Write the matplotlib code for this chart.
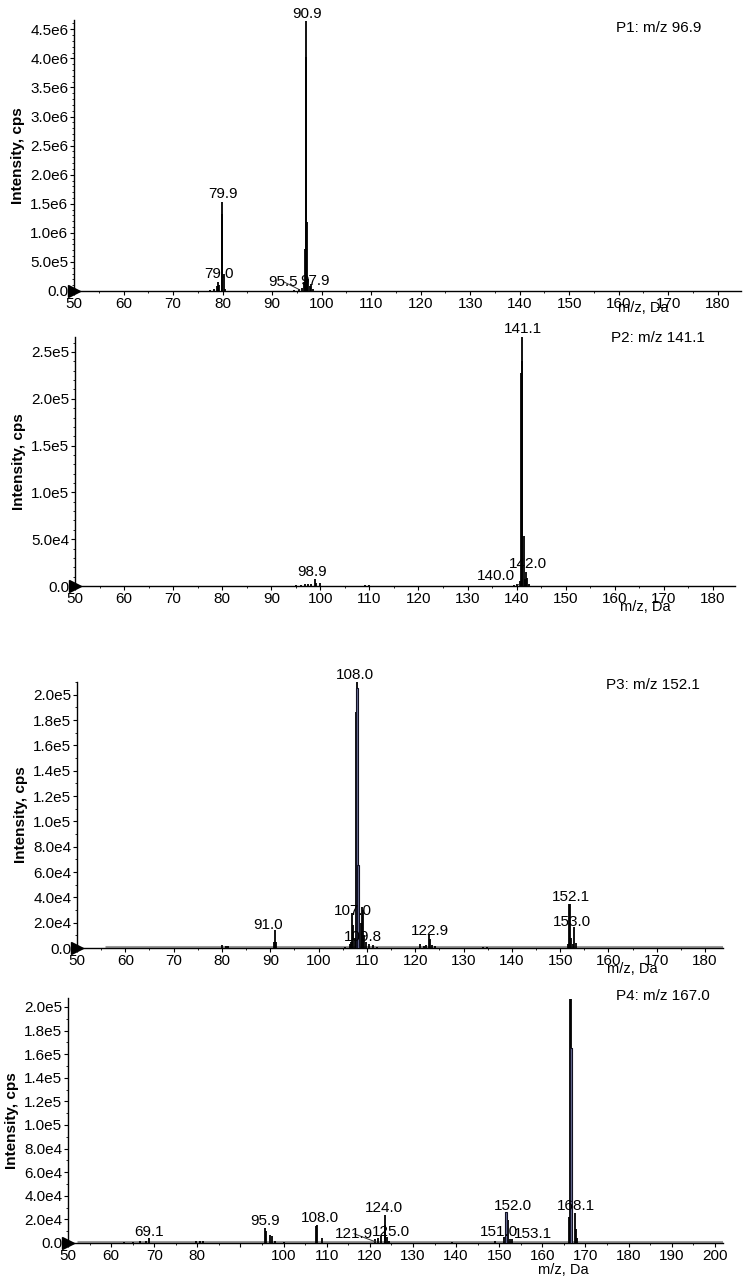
import numpy as np
import matplotlib
matplotlib.use("Agg")
import matplotlib.pyplot as plt
from matplotlib.ticker import MultipleLocator, FuncFormatter

plt.rcParams['font.family'] = ['Liberation Sans', 'DejaVu Sans']

# ---- P1: m/z 96.9 ----
mz1 = [77.5, 78.2, 78.8, 79.0, 79.3, 79.8, 79.9, 80.2, 80.5, 94.5, 95.5, 96.0, 96.4,
       96.6, 96.8, 96.9, 97.1, 97.3, 97.6, 97.9, 98.3]
int1 = [1.0e4, 3.0e4, 9.0e4, 1.55e5, 1.0e5, 1.33e6, 1.53e6, 3.0e5, 3.0e4, 1.0e4, 3.0e4,
        5.0e4, 1.5e5, 7.3e5, 4.02e6, 4.65e6, 1.18e6, 2.0e5, 9.0e4, 1.2e5, 3.0e4]
lab1_text = ["90.9", "79.9", "79.0", "95.5", "97.9"]
lab1_x = [97.0, 80.1, 79.3, 92.3, 98.6]
lab1_y = [4.65e6, 1.55e6, 1.7e5, 4.0e4, 6.0e4]

# ---- P2: m/z 141.1 ----
mz2 = [95.0, 96.0, 96.8, 97.5, 98.0, 98.9, 99.2, 100.0, 109.0, 110.0, 139.5, 140.0, 140.6,
       140.9, 141.0, 141.1, 141.4, 141.7, 142.0, 142.2, 142.6]
int2 = [1.5e3, 1.5e3, 2.0e3, 2.5e3, 2.0e3, 7.5e3, 3.0e3, 3.0e3, 1.0e3, 1.0e3, 1.0e3, 2.5e3,
        5.0e3, 2.28e5, 2.4e5, 2.66e5, 5.3e4, 8.0e3, 1.5e4, 9.0e3, 2.0e3]
lab2_text = ["141.1", "142.0", "140.0", "98.9"]
lab2_x = [141.3, 142.3, 135.8, 98.3]
lab2_y = [2.67e5, 1.6e4, 3.0e3, 8.0e3]

# ---- P3: m/z 152.1 ----
mz3 = [80.0, 80.8, 81.3, 90.8, 91.0, 91.2, 105.5, 106.4, 106.8, 107.0, 107.2, 107.5, 107.8,
       108.0, 108.2, 108.4, 108.7, 108.9, 109.1, 109.3, 109.8, 110.5, 111.2, 112.0, 121.0,
       121.8, 122.3, 122.9, 123.1, 123.5, 124.0, 134.0, 134.8, 151.6, 151.9, 152.1, 152.3,
       152.7, 152.9, 153.2]
int3 = [2.5e3, 1.5e3, 1.5e3, 5.0e3, 1.45e4, 5.0e3, 1.0e3, 3.0e3, 5.0e3, 2.77e4, 1.8e4, 8.0e3,
        1.866e5, 2.1e5, 6.56e4, 1.2e4, 2.0e4, 3.24e4, 3.0e4, 1.0e4, 5.0e3, 3.0e3, 2.5e3,
        1.0e3, 3.0e3, 1.5e3, 2.0e3, 1.03e4, 7.0e3, 2.0e3, 1.5e3, 1.0e3, 1.0e3, 3.0e3, 3.48e4,
        3.48e4, 8.0e3, 3.0e3, 1.66e4, 4.0e3]
fill3_mz = [108.0, 108.2]
fill3_int = [2.05e5, 6.56e4]
lab3_text = ["108.0", "107.0", "109.8", "91.0", "122.9", "152.1", "153.0"]
lab3_x = [107.5, 107.1, 109.2, 89.5, 123.0, 152.2, 152.4]
lab3_y = [2.1e5, 2.4e4, 3.0e3, 1.3e4, 8.0e3, 3.5e4, 1.5e4]

# ---- P4: m/z 167.0 ----
mz4 = [63.0, 65.0, 66.8, 68.2, 68.7, 79.8, 80.5, 81.2, 95.8, 96.0, 96.8, 97.2, 97.9, 100.0,
       107.6, 107.8, 108.8, 121.3, 122.0, 122.7, 123.4, 123.6, 124.0, 124.5, 139.0, 149.0,
       151.0, 151.6, 152.0, 152.4, 153.0, 166.2, 166.5, 166.7, 166.9, 167.6, 167.8, 168.1]
int4 = [1.0e3, 1.0e3, 1.5e3, 1.5e3, 4.0e3, 1.5e3, 2.0e3, 1.5e3, 1.27e4, 1.0e4, 7.0e3, 6.0e3,
        2.0e3, 1.0e3, 1.44e4, 1.5e4, 4.0e3, 3.0e3, 4.0e3, 6.0e3, 2.37e4, 1.5e4, 5.0e3,
        2.0e3, 1.0e3, 2.0e3, 5.0e3, 2.6e4, 1.95e4, 3.0e3, 3.0e3, 2.2e4, 2.07e5, 2.07e5,
        1.65e5, 2.5e4, 1.2e4, 4.0e3]
fill4_mz = [151.6, 166.7]
fill4_int = [2.6e4, 1.65e5]
lab4_text = ["69.1", "95.9", "108.0", "121.9", "124.0", "125.0", "152.0", "151.0", "153.1", "168.1"]
lab4_x = [68.7, 95.8, 108.4, 116.3, 123.2, 124.8, 153.2, 150.0, 157.9, 167.9]
lab4_y = [3.0e3, 1.25e4, 1.55e4, 2.0e3, 2.4e4, 3.5e3, 2.5e4, 3.0e3, 1.5e3, 2.5e4]

# (label index, peak m/z, peak intensity) for labels with a leader line
ptr1 = [(3, 95.6, 2.0e4)]
ptr2 = [(2, 140.6, 1.0e3)]
ptr4 = [(3, 121.3, 1.0e3)]

titles = ["P1: m/z 96.9", "P2: m/z 141.1", "P3: m/z 152.1", "P4: m/z 167.0"]


def sci(v, pos):
    if abs(v) < 1e-9:
        return "0.0"
    e = int(np.floor(np.log10(abs(v)) + 1e-9))
    return f"{v / 10**e:.1f}e{e}"


W, H = 744, 1284
fig = plt.figure(figsize=(W / 100, H / 100), dpi=100)

# pixel boxes: left, right, top, bottom
boxes = [(74, 741, 20, 291), (75, 735, 337, 586), (77, 723, 682, 948), (68, 723, 998, 1243)]
xmaxs = [184.7, 184.5, 183.7, 201.9]
ymaxs = [4.66e6, 2.66e5, 2.10e5, 2.076e5]
ymaj = [5e5, 5e4, 2e4, 2e4]
ymin = [1e5, 1e4, 1e4, 1e4]
title_pos = [(0.94, 0.97), (0.955, 0.995), (0.964, 0.99), (0.98, 1.01)]
xlab_pos = [(0.853, -0.062), (0.864, -0.085), (0.859, -0.08), (0.756, -0.11)]
baseline_start = [None, None, 55.7, 52.0]

data = [(mz1, int1, None, None, lab1_text, lab1_x, lab1_y, ptr1),
        (mz2, int2, None, None, lab2_text, lab2_x, lab2_y, ptr2),
        (mz3, int3, fill3_mz, fill3_int, lab3_text, lab3_x, lab3_y, []),
        (mz4, int4, fill4_mz, fill4_int, lab4_text, lab4_x, lab4_y, ptr4)]

for i, (l, r, t, b) in enumerate(boxes):
    ax = fig.add_axes([l / W, 1 - b / H, (r - l) / W, (b - t) / H])
    mz, inten, fmz, fint, lt, lx, ly, ptr = data[i]
    ax.set_xlim(50, xmaxs[i])
    ax.set_ylim(0, ymaxs[i])

    if baseline_start[i] is not None:
        ax.hlines(ymaxs[i] * 0.004, baseline_start[i], xmaxs[i], color='#999999', lw=2.2, zorder=1)
    ax.vlines(mz, 0, inten, color='black', lw=1.3, zorder=3)
    if fmz is not None:
        ax.bar(fmz, fint, width=0.35, color='#6d7199', edgecolor='#111122', lw=0.8, zorder=4)

    ptr_idx = {p[0]: p for p in ptr}
    for k, txt in enumerate(lt):
        if k in ptr_idx:
            _, px, py = ptr_idx[k]
            ax.annotate(txt, xy=(px, py), xytext=(lx[k], ly[k]), ha='center', va='bottom',
                        fontsize=11, zorder=5,
                        arrowprops=dict(arrowstyle='-', lw=0.7, color='#333333', shrinkA=0, shrinkB=0))
        else:
            ax.text(lx[k], ly[k], txt, ha='center', va='bottom', fontsize=11, zorder=5)

    ax.plot(50, 0, '>', color='black', ms=8, clip_on=False, zorder=6)

    for s in ['top', 'right']:
        ax.spines[s].set_visible(False)
    ax.spines['left'].set_linewidth(1.0)
    ax.spines['bottom'].set_linewidth(1.0)

    ax.xaxis.set_major_locator(MultipleLocator(10))
    ax.xaxis.set_minor_locator(MultipleLocator(5))
    ax.yaxis.set_major_locator(MultipleLocator(ymaj[i]))
    ax.yaxis.set_minor_locator(MultipleLocator(ymin[i]))
    ax.yaxis.set_major_formatter(FuncFormatter(sci))
    if i == 3:
        ax.xaxis.set_major_formatter(FuncFormatter(lambda v, p: "" if abs(v - 90) < 1e-6 else f"{v:.0f}"))
    ax.tick_params(axis='both', which='major', length=3, width=0.8, labelsize=11, pad=1)
    ax.tick_params(axis='both', which='minor', length=1.5, width=0.6)

    ax.set_ylabel("Intensity, cps", fontsize=11, fontweight='bold', labelpad=4)
    ax.text(title_pos[i][0], title_pos[i][1], titles[i], transform=ax.transAxes,
            ha='right', va='center', fontsize=11)
    ax.text(xlab_pos[i][0], xlab_pos[i][1], "m/z, Da", transform=ax.transAxes,
            ha='center', va='center', fontsize=10.5)

fig.savefig("out.png", dpi=100)
